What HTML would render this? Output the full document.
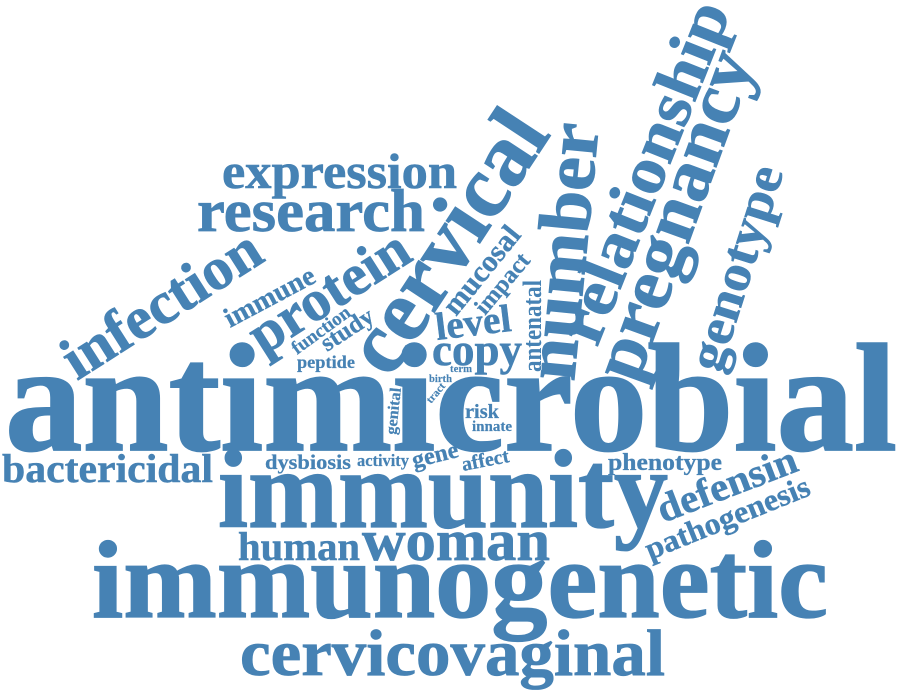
<!DOCTYPE html>
<html lang="en">
<head>
<meta charset="utf-8">
<title>Word cloud</title>
<style>
html,body{margin:0;padding:0;background:#fff;width:900px;height:690px;overflow:hidden}
svg{display:block}
text{font-family:"Liberation Serif",serif;font-weight:bold;fill:#4682b4;stroke:#4682b4;stroke-width:.012em}
.halo{stroke:#fff;stroke-width:1.2px;paint-order:stroke}
</style>
</head>
<body>
<svg width="900" height="690" viewBox="0 0 900 690" xmlns="http://www.w3.org/2000/svg">
<text x="5" y="450" font-size="154" textLength="892" lengthAdjust="spacingAndGlyphs">antimicrobial</text>
<text x="218" y="527" font-size="111" textLength="450" lengthAdjust="spacingAndGlyphs">immunity</text>
<text x="92" y="617" font-size="110" textLength="736" lengthAdjust="spacingAndGlyphs">immunogenetic</text>
<text x="240" y="675" font-size="66" textLength="425" lengthAdjust="spacingAndGlyphs">cervicovaginal</text>
<text x="362" y="560" font-size="58" textLength="188" lengthAdjust="spacingAndGlyphs">woman</text>
<text x="238" y="560" font-size="40" textLength="122" lengthAdjust="spacingAndGlyphs">human</text>
<text x="2" y="482" font-size="40" textLength="211" lengthAdjust="spacingAndGlyphs">bactericidal</text>
<text x="265" y="469" font-size="21" textLength="86" lengthAdjust="spacingAndGlyphs">dysbiosis</text>
<text x="357" y="466" font-size="17" textLength="52" lengthAdjust="spacingAndGlyphs">activity</text>
<text transform="translate(414 468) rotate(-14)" font-size="24" textLength="47" lengthAdjust="spacingAndGlyphs">gene</text>
<text transform="translate(463 471) rotate(-11)" font-size="20" textLength="48" lengthAdjust="spacingAndGlyphs">affect</text>
<text x="608" y="470" font-size="24" textLength="114" lengthAdjust="spacingAndGlyphs">phenotype</text>
<text transform="translate(663 523) rotate(-21)" font-size="40" textLength="147" lengthAdjust="spacingAndGlyphs">defensin</text>
<text transform="translate(650 560) rotate(-22)" font-size="31" textLength="175" lengthAdjust="spacingAndGlyphs">pathogenesis</text>
<text x="465" y="418" font-size="20" textLength="34" lengthAdjust="spacingAndGlyphs">risk</text>
<text x="472" y="431" font-size="15" textLength="40" lengthAdjust="spacingAndGlyphs">innate</text>
<text transform="translate(396 435) rotate(-84)" font-size="16" textLength="47" lengthAdjust="spacingAndGlyphs">genital</text>
<text transform="translate(431 404) rotate(-50)" font-size="11" textLength="23" lengthAdjust="spacingAndGlyphs">tract</text>
<text x="429" y="382" font-size="11" textLength="23" lengthAdjust="spacingAndGlyphs">birth</text>
<text x="450" y="372" font-size="11" textLength="22" lengthAdjust="spacingAndGlyphs">term</text>
<text x="297" y="368" font-size="18" textLength="58" lengthAdjust="spacingAndGlyphs">peptide</text>
<text transform="translate(297 355) rotate(-36)" font-size="19" textLength="68" lengthAdjust="spacingAndGlyphs">function</text>
<text transform="translate(327 352) rotate(-33)" font-size="25" textLength="58" lengthAdjust="spacingAndGlyphs">study</text>
<text transform="translate(230 328) rotate(-28)" font-size="28" textLength="99" lengthAdjust="spacingAndGlyphs">immune</text>
<text transform="translate(263 356) rotate(-32.5)" font-size="58" textLength="180" lengthAdjust="spacingAndGlyphs">protein</text>
<text transform="translate(77 381) rotate(-32.5)" font-size="60" textLength="225" lengthAdjust="spacingAndGlyphs">infection</text>
<text x="197" y="231" font-size="60" textLength="228" lengthAdjust="spacingAndGlyphs">research</text>
<text x="222" y="188" font-size="50" textLength="235" lengthAdjust="spacingAndGlyphs">expression</text>
<text transform="translate(390 380) rotate(-56.7)" font-size="88" textLength="294" lengthAdjust="spacingAndGlyphs">cervical</text>
<text transform="translate(574 382) rotate(-84.5)" font-size="73" textLength="258" lengthAdjust="spacingAndGlyphs">number</text>
<text transform="translate(597 348) rotate(-68.3)" font-size="66" textLength="362" lengthAdjust="spacingAndGlyphs">relationship</text>
<text transform="translate(637 385) rotate(-70)" font-size="74" textLength="345" lengthAdjust="spacingAndGlyphs">pregnancy</text>
<text transform="translate(720 374) rotate(-72.5)" font-size="52" textLength="212" lengthAdjust="spacingAndGlyphs">genotype</text>
<text transform="translate(456 317) rotate(-51)" font-size="30" textLength="105" lengthAdjust="spacingAndGlyphs">mucosal</text>
<text transform="translate(485 316) rotate(-50)" font-size="24" textLength="72" lengthAdjust="spacingAndGlyphs">impact</text>
<text class="halo" transform="translate(541 372) rotate(-90)" font-size="26" textLength="92" lengthAdjust="spacingAndGlyphs">antenatal</text>
<text transform="translate(437 340) rotate(-7)" font-size="39" textLength="76" lengthAdjust="spacingAndGlyphs">level</text>
<text x="432" y="365" font-size="45" textLength="90" lengthAdjust="spacingAndGlyphs">copy</text>
</svg>
</body>
</html>
